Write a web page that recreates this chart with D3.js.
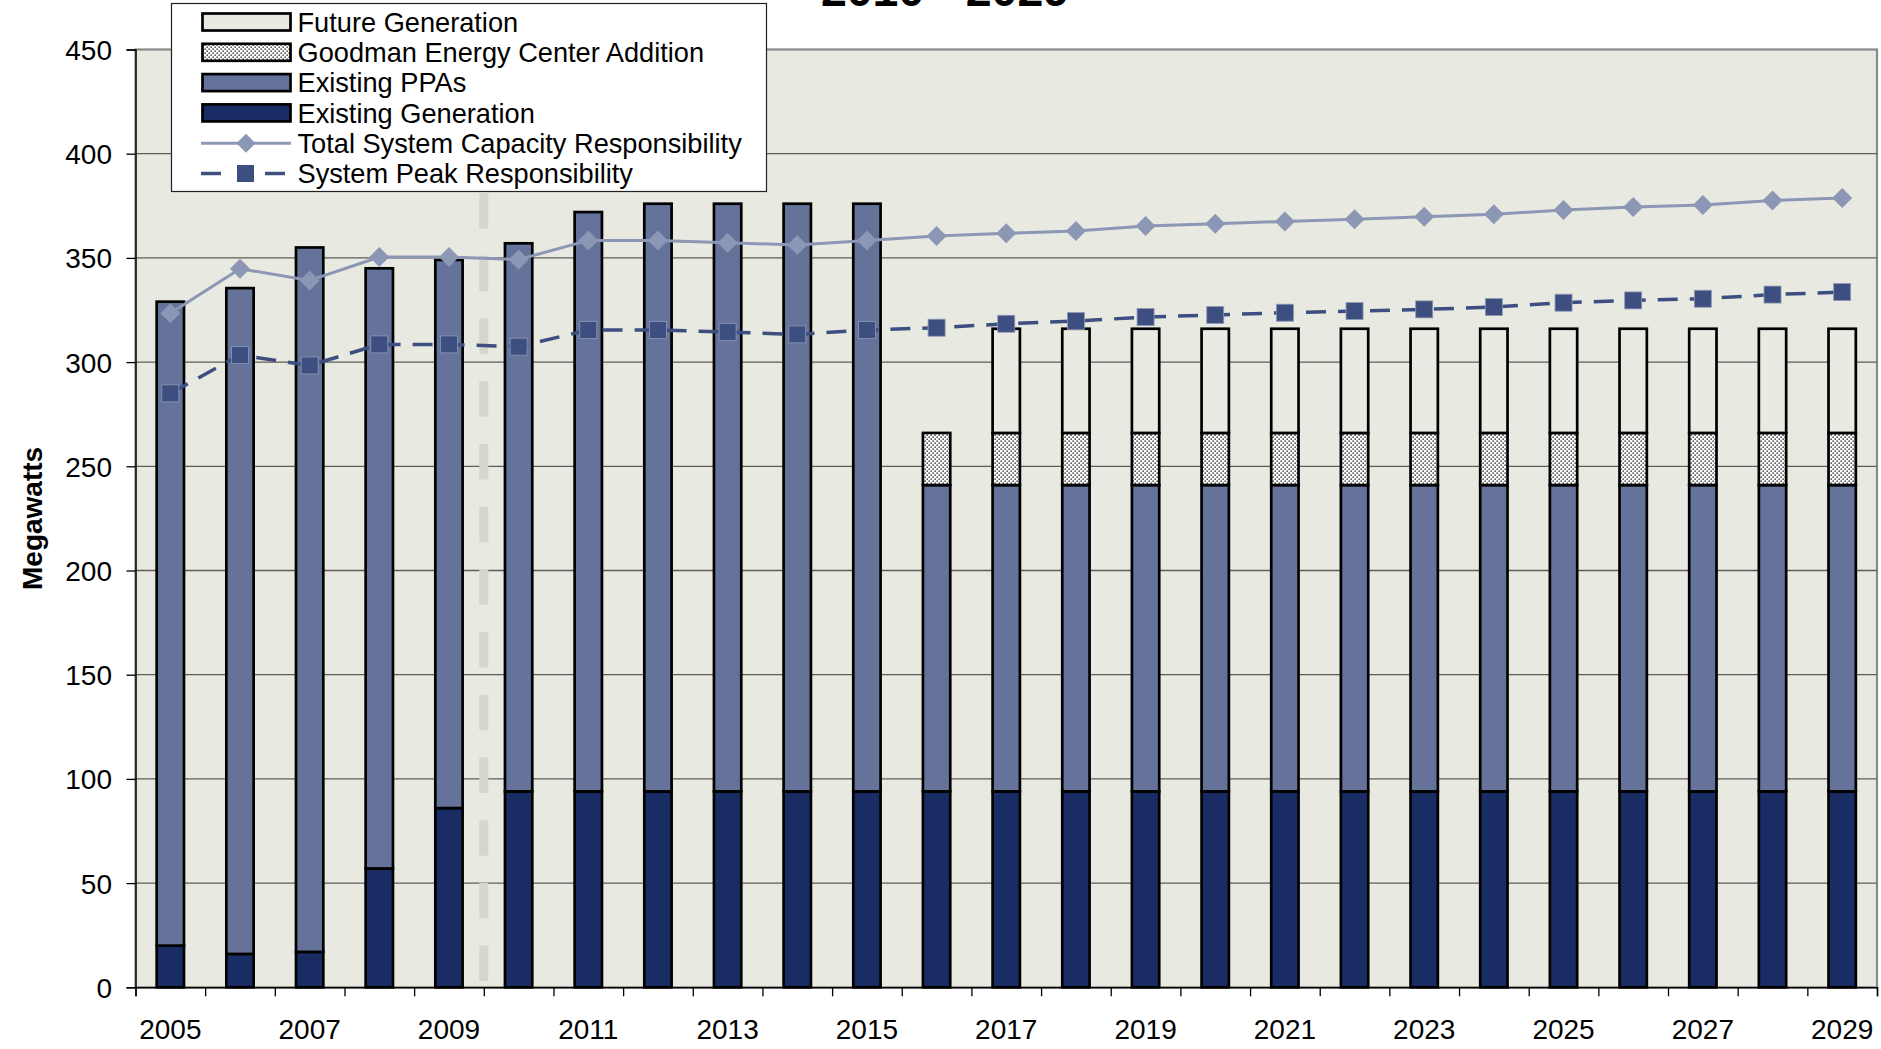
<!DOCTYPE html>
<html>
<head>
<meta charset="utf-8">
<script src="https://cdn.jsdelivr.net/npm/d3@7"></script>
<style>
  html, body { margin: 0; padding: 0; background: #ffffff; }
  svg { display: block; font-family: "Liberation Sans", Arial, sans-serif; }
</style>
</head>
<body>
<svg id="chart" width="1881" height="1049"></svg>
<script>
// ---------------- DATA ----------------
const years = ["2005","2006","2007","2008","2009","2010","2011","2012","2013","2014","2015","2016",
               "2017","2018","2019","2020","2021","2022","2023","2024","2025","2026","2027","2028","2029"];
const existingGeneration = [20,16,17,57,86,94,94,94,94,94,94,94,94,94,94,94,94,94,94,94,94,94,94,94,94];
const existingPPAs      = [309,319.5,338,288,263,263,278,282,282,282,282,147,147,147,147,147,147,147,147,147,147,147,147,147,147];
const goodmanAddition   = [0,0,0,0,0,0,0,0,0,0,0,25,25,25,25,25,25,25,25,25,25,25,25,25,25];
const futureGeneration  = [0,0,0,0,0,0,0,0,0,0,0,0,50,50,50,50,50,50,50,50,50,50,50,50,50];
const totalCapacityResp = [323.4,344.8,339.2,350.4,350.4,349.2,358.4,358.4,357.3,356.2,358.4,360.5,361.8,362.9,365.3,366.4,367.5,368.6,369.8,370.9,373,374.4,375.4,377.6,378.8];
const systemPeakResp    = [285,303.4,298.4,308.5,308.5,307.4,315.4,315.4,314.4,313.3,315.4,316.5,318.4,319.7,321.6,322.6,323.7,324.5,325.3,326.4,328.5,329.6,330.4,332.4,333.6];
const yTicks = [0,50,100,150,200,250,300,350,400,450];
const xLabelYears = ["2005","2007","2009","2011","2013","2015","2017","2019","2021","2023","2025","2027","2029"];
const titleText = "2010 - 2029";
const forecastStartYear = "2010";

// ---------------- LAYOUT ----------------
const svg = d3.select("#chart");
const L = 135.5, R = 1877, T = 49.5, B = 987.3;

const colors = {
  gen: "#1a2c64",
  ppa: "#65729a",
  future: "#e9eae1",
  bg: "#e8e9e0",
  total: "#8c96b5",
  peak: "#3d4e80"
};

const x = d3.scaleBand().domain(years).range([L, R]).paddingInner(0.608).paddingOuter(0.304);
const xb = d3.scaleLinear().domain([0, years.length]).range([L, R]);
const y = d3.scaleLinear().domain([0, 450]).range([B, T]);

// pattern for Goodman
const defs = svg.append("defs");
const pat = defs.append("pattern").attr("id", "dots").attr("patternUnits", "userSpaceOnUse")
  .attr("width", 4).attr("height", 4);
pat.append("rect").attr("width", 4).attr("height", 4).attr("fill", "#ffffff");
pat.append("rect").attr("x", 0.5).attr("y", 0.5).attr("width", 1.3).attr("height", 1.3).attr("fill", "#000");
pat.append("rect").attr("x", 2.5).attr("y", 2.5).attr("width", 1.3).attr("height", 1.3).attr("fill", "#000");

// plot background
svg.append("rect").attr("x", L).attr("y", T).attr("width", R - L).attr("height", B - T)
  .attr("fill", colors.bg).attr("stroke", "#8a8a8a").attr("stroke-width", 2.2);

// gridlines
svg.append("g").selectAll("line").data(yTicks.filter(d => d > 0 && d < 450)).join("line")
  .attr("x1", L).attr("x2", R).attr("y1", d => y(d)).attr("y2", d => y(d))
  .attr("stroke", "#5e5e58").attr("stroke-width", 1.3);

// forecast divider dashed line
const idx = years.indexOf(forecastStartYear);
const divX = xb(idx);
svg.append("line").attr("x1", divX).attr("x2", divX).attr("y1", y(3)).attr("y2", T)
  .attr("stroke", "#d5d6ce").attr("stroke-width", 9).attr("stroke-dasharray", "35.5,27.2");

// stacked bars
const rows = years.map((yr, i) => ({
  year: yr,
  gen: existingGeneration[i],
  ppa: existingPPAs[i],
  goodman: goodmanAddition[i],
  future: futureGeneration[i]
}));
const keys = ["gen", "ppa", "goodman", "future"];
const fills = { gen: colors.gen, ppa: colors.ppa, goodman: "url(#dots)", future: colors.future };
const stack = d3.stack().keys(keys)(rows);

const barG = svg.append("g");
stack.forEach(layer => {
  barG.append("g").selectAll("rect").data(layer.filter(d => d[1] - d[0] > 0)).join("rect")
    .attr("x", d => x(d.data.year))
    .attr("width", x.bandwidth())
    .attr("y", d => y(d[1]))
    .attr("height", d => y(d[0]) - y(d[1]))
    .attr("fill", fills[layer.key])
    .attr("stroke", "#000")
    .attr("stroke-width", 2.7);
});

// axes
const yAxis = d3.axisLeft(y).tickValues(yTicks).tickSize(9).tickPadding(14.5).tickFormat(d3.format("d"));
const yG = svg.append("g").attr("transform", `translate(${L},0)`).call(yAxis);
yG.select(".domain").attr("stroke", "#000").attr("stroke-width", 1.4);
yG.selectAll(".tick line").attr("stroke", "#000").attr("stroke-width", 1.3);
yG.selectAll(".tick text").attr("font-size", 28).attr("fill", "#000")
  .attr("font-family", "'Liberation Sans', Arial, sans-serif").attr("dy", "0.36em");

const xTickAxis = d3.axisBottom(xb).tickValues(d3.range(years.length + 1)).tickSize(9).tickFormat("");
const xtG = svg.append("g").attr("transform", `translate(0,${B})`).call(xTickAxis);
xtG.select(".domain").attr("stroke", "#000").attr("stroke-width", 1.5);
xtG.selectAll(".tick line").attr("stroke", "#000").attr("stroke-width", 1.3);

const xAxis = d3.axisBottom(x).tickValues(xLabelYears).tickSize(0).tickPadding(0);
const xG = svg.append("g").attr("transform", `translate(0,${B})`).call(xAxis);
xG.select(".domain").remove();
xG.selectAll(".tick text").attr("font-size", 28).attr("fill", "#000")
  .attr("font-family", "'Liberation Sans', Arial, sans-serif")
  .attr("y", 51.7).attr("dy", 0);

// lines
const xc = yr => x(yr) + x.bandwidth() / 2;
const lineTotal = d3.line().x((d, i) => xc(years[i])).y(d => y(d));
svg.append("path").datum(totalCapacityResp).attr("d", lineTotal)
  .attr("fill", "none").attr("stroke", colors.total).attr("stroke-width", 3);
const diamond = s => `M0,${-s}L${s},0L0,${s}L${-s},0Z`;
svg.append("g").selectAll("path").data(totalCapacityResp).join("path")
  .attr("transform", (d, i) => `translate(${xc(years[i])},${y(d)})`)
  .attr("d", diamond(10)).attr("fill", colors.total);

svg.append("path").datum(systemPeakResp).attr("d", lineTotal)
  .attr("fill", "none").attr("stroke", colors.peak).attr("stroke-width", 3.5)
  .attr("stroke-dasharray", "20,12");
svg.append("g").selectAll("rect").data(systemPeakResp).join("rect")
  .attr("x", (d, i) => xc(years[i]) - 8.5).attr("y", d => y(d) - 8.5)
  .attr("width", 17).attr("height", 17).attr("fill", colors.peak)
  .attr("stroke", "#8f99b6").attr("stroke-width", 0.8);

// y-axis title
svg.append("text").attr("transform", `translate(42,${(T + B) / 2}) rotate(-90)`)
  .attr("text-anchor", "middle").attr("font-size", 28).attr("font-weight", "bold")
  .text("Megawatts");

// title (cut off at top, as in the original)
svg.append("text").attr("x", 945).attr("y", 5.5).attr("text-anchor", "middle")
  .attr("font-size", 46.5).attr("font-weight", "bold").text(titleText);

// legend
const lg = svg.append("g");
lg.append("rect").attr("x", 171.5).attr("y", 3.5).attr("width", 595).attr("height", 188)
  .attr("fill", "#fff").attr("stroke", "#222").attr("stroke-width", 1.2);
const legendItems = [
  { label: "Future Generation", type: "box", fill: colors.future },
  { label: "Goodman Energy Center Addition", type: "box", fill: "url(#dots)" },
  { label: "Existing PPAs", type: "box", fill: colors.ppa },
  { label: "Existing Generation", type: "box", fill: colors.gen },
  { label: "Total System Capacity Responsibility", type: "total" },
  { label: "System Peak Responsibility", type: "peak" }
];
legendItems.forEach((it, i) => {
  const cy = 22 + 30.3 * i;
  if (it.type === "box") {
    lg.append("rect").attr("x", 202.5).attr("y", cy - 8.5).attr("width", 88).attr("height", 17)
      .attr("fill", it.fill).attr("stroke", "#000").attr("stroke-width", 2.7);
  } else if (it.type === "total") {
    lg.append("line").attr("x1", 201).attr("x2", 291).attr("y1", cy).attr("y2", cy)
      .attr("stroke", colors.total).attr("stroke-width", 3);
    lg.append("path").attr("transform", `translate(246,${cy})`).attr("d", diamond(9.5)).attr("fill", colors.total);
  } else {
    lg.append("line").attr("x1", 201).attr("x2", 221).attr("y1", cy).attr("y2", cy)
      .attr("stroke", colors.peak).attr("stroke-width", 3.5);
    lg.append("line").attr("x1", 265).attr("x2", 285).attr("y1", cy).attr("y2", cy)
      .attr("stroke", colors.peak).attr("stroke-width", 3.5);
    lg.append("rect").attr("x", 237).attr("y", cy - 8.5).attr("width", 17).attr("height", 17)
      .attr("fill", colors.peak);
  }
  lg.append("text").attr("x", 297.5).attr("y", cy + 9.7).attr("font-size", 27.2).attr("fill", "#000")
    .text(it.label);
});
</script>
</body>
</html>
